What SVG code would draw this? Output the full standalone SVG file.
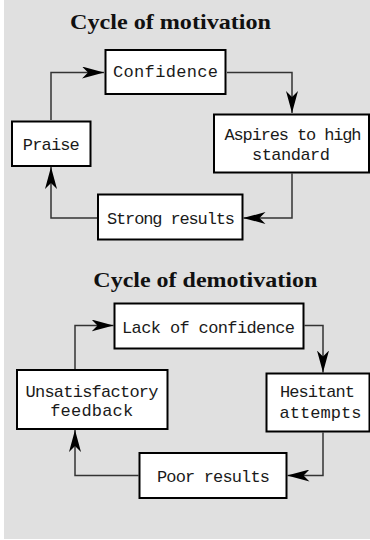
<svg xmlns="http://www.w3.org/2000/svg" width="370" height="540" viewBox="0 0 370 540">
  <style>
    .title { font-family: "Liberation Serif", "Times New Roman", serif; font-weight: bold; font-size: 22px; fill: #111; text-anchor: middle; }
    .box { fill: #ffffff; stroke: #000000; stroke-width: 2; }
    .lbl { font-family: "Liberation Mono", "Courier New", monospace; font-size: 17px; fill: #1a1a1a; text-anchor: middle; }
    .conn { fill: none; stroke: #333333; stroke-width: 1.5; marker-end: url(#stealth); }
  </style>
  <defs>
    <marker id="stealth" markerUnits="userSpaceOnUse" markerWidth="22" markerHeight="12" viewBox="0 0 22 12" refX="22" refY="6" orient="auto">
      <path d="M0,0 L22,6 L0,12 L6,6 Z" fill="#000000"/>
    </marker>
  </defs>
  <rect x="4" y="0" width="366" height="539" fill="#e0e0e0"/>

  <text class="title" x="170.5" y="28.5" textLength="201" lengthAdjust="spacingAndGlyphs">Cycle of motivation</text>
  <text class="title" x="205.3" y="286.5" textLength="224" lengthAdjust="spacingAndGlyphs">Cycle of demotivation</text>

  <g id="connectors">
    <path class="conn" d="M51,120 L51,72.5 L104,72.5"/>
    <path class="conn" d="M227,72.5 L292,72.5 L292,113"/>
    <path class="conn" d="M292,173.5 L292,218 L243.5,218"/>
    <path class="conn" d="M97,218 L51,218 L51,167"/>
    <path class="conn" d="M75,369 L75,325.5 L113.5,325.5"/>
    <path class="conn" d="M304.5,325.5 L323,325.5 L323,372.5"/>
    <path class="conn" d="M323,432.5 L323,475.5 L287.5,475.5"/>
    <path class="conn" d="M138.5,475.5 L75,475.5 L75,430"/>
  </g>

  <g id="confidence">
    <rect class="box" x="105.5" y="50" width="120" height="44"/>
    <text class="lbl" x="165.5" y="77" textLength="105">Confidence</text>
  </g>
  <g id="aspires">
    <rect class="box" x="214" y="114.5" width="155" height="58"/>
    <text class="lbl" x="293" y="140" textLength="137">Aspires to high</text>
    <text class="lbl" x="291" y="160" textLength="78">standard</text>
  </g>
  <g id="praise">
    <rect class="box" x="12" y="121.5" width="78.5" height="44.5"/>
    <text class="lbl" x="51.3" y="149.5" textLength="57">Praise</text>
  </g>
  <g id="strong-results">
    <rect class="box" x="98" y="194.5" width="144.5" height="45"/>
    <text class="lbl" x="171" y="223.5" textLength="128">Strong results</text>
  </g>

  <g id="lack-of-confidence">
    <rect class="box" x="114.5" y="303.5" width="189" height="45"/>
    <text class="lbl" x="208.5" y="332.5" textLength="173">Lack of confidence</text>
  </g>
  <g id="hesitant-attempts">
    <rect class="box" x="266.5" y="373.5" width="103" height="58"/>
    <text class="lbl" x="317.5" y="397" textLength="75">Hesitant</text>
    <text class="lbl" x="320.5" y="418" textLength="82">attempts</text>
  </g>
  <g id="poor-results">
    <rect class="box" x="139.5" y="453" width="147" height="45"/>
    <text class="lbl" x="213.5" y="482" textLength="113">Poor results</text>
  </g>
  <g id="unsatisfactory-feedback">
    <rect class="box" x="17" y="370" width="150.5" height="59"/>
    <text class="lbl" x="92" y="397" textLength="133">Unsatisfactory</text>
    <text class="lbl" x="91.7" y="416" textLength="83">feedback</text>
  </g>
</svg>
